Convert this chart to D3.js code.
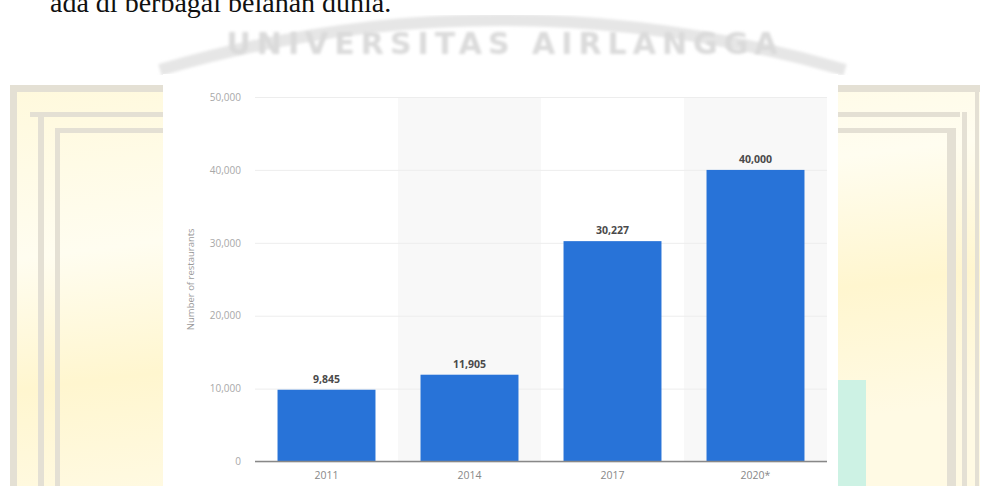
<!DOCTYPE html>
<meta charset="utf-8">
<head>
<style>
  body { margin: 0; background: #ffffff; overflow: hidden; }
  svg { display: block; }
  .y.axis text, .x.axis text { font-family: "Open Sans", sans-serif; }
  .y.axis text { fill: #a8a8a8; font-size: 10px; }
  .x.axis text { fill: #888; font-size: 10.5px; }
  .y.axis line { stroke: #ededed; }
  .axis path { display: none; }
  .bar { fill: #2873d8; }
  .val { font-family: "Open Sans", sans-serif; font-size: 10.5px; font-weight: bold; fill: #4a4a4a; text-anchor: middle; }
</style>
</head>
<body>
<svg id="chart" width="985" height="486"></svg>
<script src="https://cdn.jsdelivr.net/npm/d3@7"></script>
<script>
// values
var years = ["2011", "2014", "2017", "2020*"];
var restaurants = [9845, 11905, 30227, 40000];
var yTicks = [0, 10000, 20000, 30000, 40000, 50000];
var yTitle = "Number of restaurants";

var svg = d3.select("#chart");

// ---- page background (scanned page with watermark) ----
var defs = svg.append("defs");
var grad = defs.append("linearGradient").attr("id", "pale").attr("x1", 0).attr("y1", 0).attr("x2", 0.3).attr("y2", 1);
grad.append("stop").attr("offset", "0%").attr("stop-color", "#fff9dc");
grad.append("stop").attr("offset", "40%").attr("stop-color", "#fffdf0");
grad.append("stop").attr("offset", "70%").attr("stop-color", "#fff6cf");
grad.append("stop").attr("offset", "100%").attr("stop-color", "#fffae4");
defs.append("filter").attr("id", "blur").append("feGaussianBlur").attr("stdDeviation", 1.6);

svg.append("rect").attr("x", 10).attr("y", 85).attr("width", 970).attr("height", 401).attr("fill", "url(#pale)");
// frame lines
var frame = svg.append("g").attr("fill", "#e4e0d4");
[[10, 85, 970, 7], [30, 112, 930, 5], [55, 128, 893, 5]].forEach(function (r) {
  frame.append("rect").attr("x", r[0]).attr("y", r[1]).attr("width", r[2]).attr("height", r[3]);
});
[[10, 85, 7], [38, 112, 6], [55, 128, 5], [947, 128, 9], [962, 112, 5], [975, 85, 4]].forEach(function (r) {
  frame.append("rect").attr("x", r[0]).attr("y", r[1]).attr("width", r[2]).attr("height", 486 - r[1]);
});
svg.append("rect").attr("x", 838).attr("y", 380).attr("width", 28).attr("height", 106).attr("fill", "#cdf2e4");

// watermark arch
svg.append("path")
  .attr("d", "M160,70 Q500,-30 845,70")
  .attr("fill", "none").attr("stroke", "#e6e6e6").attr("stroke-width", 12)
  .attr("filter", "url(#blur)");
svg.append("text")
  .attr("x", 505).attr("y", 54)
  .attr("text-anchor", "middle")
  .attr("font-family", "DejaVu Sans, sans-serif").attr("font-weight", "bold")
  .attr("font-size", 30).attr("letter-spacing", 6)
  .attr("fill", "#dadada").attr("filter", "url(#blur)")
  .text("UNIVERSITAS AIRLANGGA");

// text line of the page, cut at the top
svg.append("text")
  .attr("x", 50).attr("y", 12)
  .attr("font-family", "Liberation Serif, serif").attr("font-size", 28).attr("fill", "#111")
  .text("ada di berbagai belahan dunia.");

// ---- the chart panel ----
svg.append("rect").attr("x", 163).attr("y", 74).attr("width", 675).attr("height", 412).attr("fill", "#fff");

var x = d3.scaleBand().domain(years).range([255, 827]);
var y = d3.scaleLinear().domain([0, 50000]).range([461.5, 97]);

var g = svg.append("g");

// alternating band shading
g.selectAll(".shade")
  .data(years.filter(function (d, i) { return i % 2 == 1; }))
  .enter().append("rect")
  .attr("x", function (d) { return x(d); })
  .attr("y", y(50000))
  .attr("width", x.bandwidth())
  .attr("height", y(0) - y(50000))
  .attr("fill", "#f8f8f8");

g.append("g")
  .attr("class", "y axis")
  .attr("transform", "translate(255,0)")
  .call(d3.axisLeft(y).tickValues(yTicks).tickFormat(d3.format(",")).tickSize(-572).tickPadding(14));

g.append("text")
  .attr("transform", "translate(194," + ((y(0) + y(50000)) / 2) + ") rotate(-90)")
  .attr("text-anchor", "middle")
  .attr("font-family", "Open Sans, sans-serif").attr("font-size", 9.5).attr("fill", "#9a9a9a")
  .text(yTitle);

var data = years.map(function (d, i) { return { key: d, value: restaurants[i] }; });
var bw = x.bandwidth() * 0.685;

g.selectAll(".bar")
  .data(data)
  .enter().append("rect")
  .attr("class", "bar")
  .attr("x", function (d) { return x(d.key) + (x.bandwidth() - bw) / 2; })
  .attr("y", function (d) { return y(d.value); })
  .attr("width", bw)
  .attr("height", function (d) { return y(0) - y(d.value); });

g.selectAll(".val")
  .data(data)
  .enter().append("text")
  .attr("class", "val")
  .attr("x", function (d) { return x(d.key) + x.bandwidth() / 2; })
  .attr("y", function (d) { return y(d.value) - 7; })
  .text(function (d) { return d3.format(",")(d.value); });

g.append("line")
  .attr("x1", 255).attr("x2", 827)
  .attr("y1", y(0)).attr("y2", y(0))
  .attr("stroke", "#888").attr("stroke-width", 1.5);

g.append("g")
  .attr("class", "x axis")
  .attr("transform", "translate(0," + y(0) + ")")
  .call(d3.axisBottom(x).tickSize(0).tickPadding(10));
</script>
</body>
